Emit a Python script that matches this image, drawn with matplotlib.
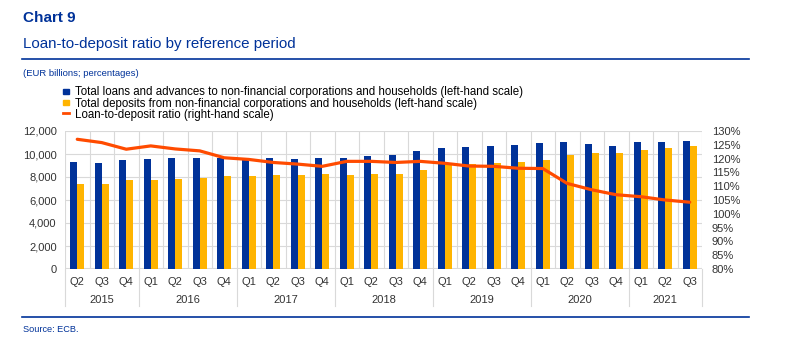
"""ECB Chart 9: loan-to-deposit ratio by reference period."""

import matplotlib.pyplot as plt
import matplotlib.transforms as mtransforms
import numpy as np

plt.rcParams['font.family'] = ['Liberation Sans', 'DejaVu Sans']

quarters = ["Q2", "Q3", "Q4",
            "Q1", "Q2", "Q3", "Q4",
            "Q1", "Q2", "Q3", "Q4",
            "Q1", "Q2", "Q3", "Q4",
            "Q1", "Q2", "Q3", "Q4",
            "Q1", "Q2", "Q3", "Q4",
            "Q1", "Q2", "Q3"]
years = ["2015", "2016", "2017", "2018", "2019", "2020", "2021"]
year_counts = [3, 4, 4, 4, 4, 4, 3]

# EUR billions
loans = [9300, 9250, 9500, 9600, 9650, 9650, 9650,
         9650, 9650, 9600, 9650, 9650, 9850, 9950, 10250,
         10550, 10600, 10700, 10800, 10950, 11050, 10850, 10700,
         11050, 11050, 11150]
deposits = [7400, 7400, 7750, 7750, 7800, 7900, 8050,
            8050, 8150, 8150, 8250, 8150, 8300, 8300, 8650,
            9050, 9100, 9200, 9300, 9450, 9950, 10050, 10050,
            10350, 10550, 10700]
# percent
ratio = [127.0, 125.8, 123.4, 124.6, 123.5, 122.8, 120.3,
         119.7, 118.6, 118.0, 117.2, 119.0, 119.0, 118.6, 119.0,
         118.3, 117.3, 117.2, 116.5, 116.4, 111.0, 108.7, 106.9,
         106.2, 105.0, 104.2]

BLUE = "#003299"
YELLOW = "#FFB400"
ORANGE = "#FF4B00"
GRID = "#D9D9D9"
TXT = "#333333"

W, H = 795, 362
fig = plt.figure(figsize=(W / 100, H / 100), dpi=100)

# Axes box in pixels: left 65, right 702, top 131, bottom 269.
ax = fig.add_axes([65 / W, 1 - 269 / H, (702 - 65) / W, (269 - 131) / H])
x = np.arange(len(quarters))
bw = 0.29
ax.bar(x - bw / 2, loans, bw, color=BLUE, zorder=3)
ax.bar(x + bw / 2, deposits, bw, color=YELLOW, zorder=3)
ax.set_xlim(-0.5, len(quarters) - 0.5)
ax.set_ylim(0, 12000)
ax.set_yticks(np.arange(0, 12001, 2000))
ax.set_yticklabels(["{:,}".format(v) for v in range(0, 12001, 2000)])
ax.tick_params(axis="y", length=0, labelsize=8, colors=TXT, pad=6)
ax.set_xticks([])
for s in ax.spines.values():
    s.set_visible(False)
ax.grid(axis="y", color=GRID, lw=0.8, zorder=0)
for b in np.arange(-0.5, len(quarters), 1.0):
    ax.axvline(b, color=GRID, lw=0.8, zorder=0)
ax.axhline(0, color=GRID, lw=1.5, zorder=2)

ax2 = ax.twinx()
ax2.plot(x, ratio, color=ORANGE, lw=2.3, zorder=4, solid_capstyle="round")
ax2.set_ylim(80, 130)
ax2.set_yticks(np.arange(80, 131, 5))
ax2.set_yticklabels(["{}%".format(v) for v in range(80, 131, 5)])
ax2.tick_params(axis="y", length=0, labelsize=8, colors=TXT, pad=7)
for s in ax2.spines.values():
    s.set_visible(False)

# Two-level category axis.
trans = mtransforms.blended_transform_factory(ax.transData, ax.transAxes)
px = 1 / (269 - 131)
for i, q in enumerate(quarters):
    ax.text(i, -13 * px, q, transform=trans, ha="center", va="center",
            fontsize=8, color=TXT)
start = -0.5
bounds = [start]
for yr, n in zip(years, year_counts):
    ax.text(start + n / 2, -31 * px, yr, transform=trans, ha="center",
            va="center", fontsize=8, color=TXT)
    start += n
    bounds.append(start)
for b in bounds:
    ax.plot([b, b], [0, -37 * px], transform=trans, color=GRID, lw=0.8,
            clip_on=False)

# Header and footer.
fig.text(23 / W, 1 - 18 / H, "Chart 9", fontsize=11, fontweight="bold",
         color=BLUE, va="center")
fig.text(23 / W, 1 - 44 / H, "Loan-to-deposit ratio by reference period",
         fontsize=10.9, color=BLUE, va="center")
fig.add_artist(plt.Line2D([22 / W, 749 / W], [1 - 59 / H] * 2, color=BLUE, lw=1.2))
fig.text(23 / W, 1 - 74 / H, "(EUR billions; percentages)", fontsize=6.8,
         color=BLUE, va="center")
fig.add_artist(plt.Line2D([22 / W, 749 / W], [1 - 317 / H] * 2, color=BLUE, lw=1.2))
fig.text(23 / W, 1 - 330 / H, "Source: ECB.", fontsize=6.6, color=BLUE,
         va="center")

# Legend drawn by hand to get the tight line spacing.
legend = [("Total loans and advances to non-financial corporations and households (left-hand scale)", BLUE, "s"),
          ("Total deposits from non-financial corporations and households (left-hand scale)", YELLOW, "s"),
          ("Loan-to-deposit ratio (right-hand scale)", ORANGE, "l")]
for k, (lab, col, kind) in enumerate(legend):
    yc = 1 - (92.5 + 11 * k) / H
    if kind == "s":
        fig.patches.append(plt.Rectangle((63 / W, yc - 1 / H), 6 / W, 5 / H,
                                         color=col, transform=fig.transFigure))
    else:
        fig.add_artist(plt.Line2D([63 / W, 69 / W], [yc + 1.5 / H] * 2,
                                  color=col, lw=2))
    fig.text(75 / W, yc, lab, fontsize=8.3, color="#000000", va="center")

fig.savefig("out.png", dpi=100)
